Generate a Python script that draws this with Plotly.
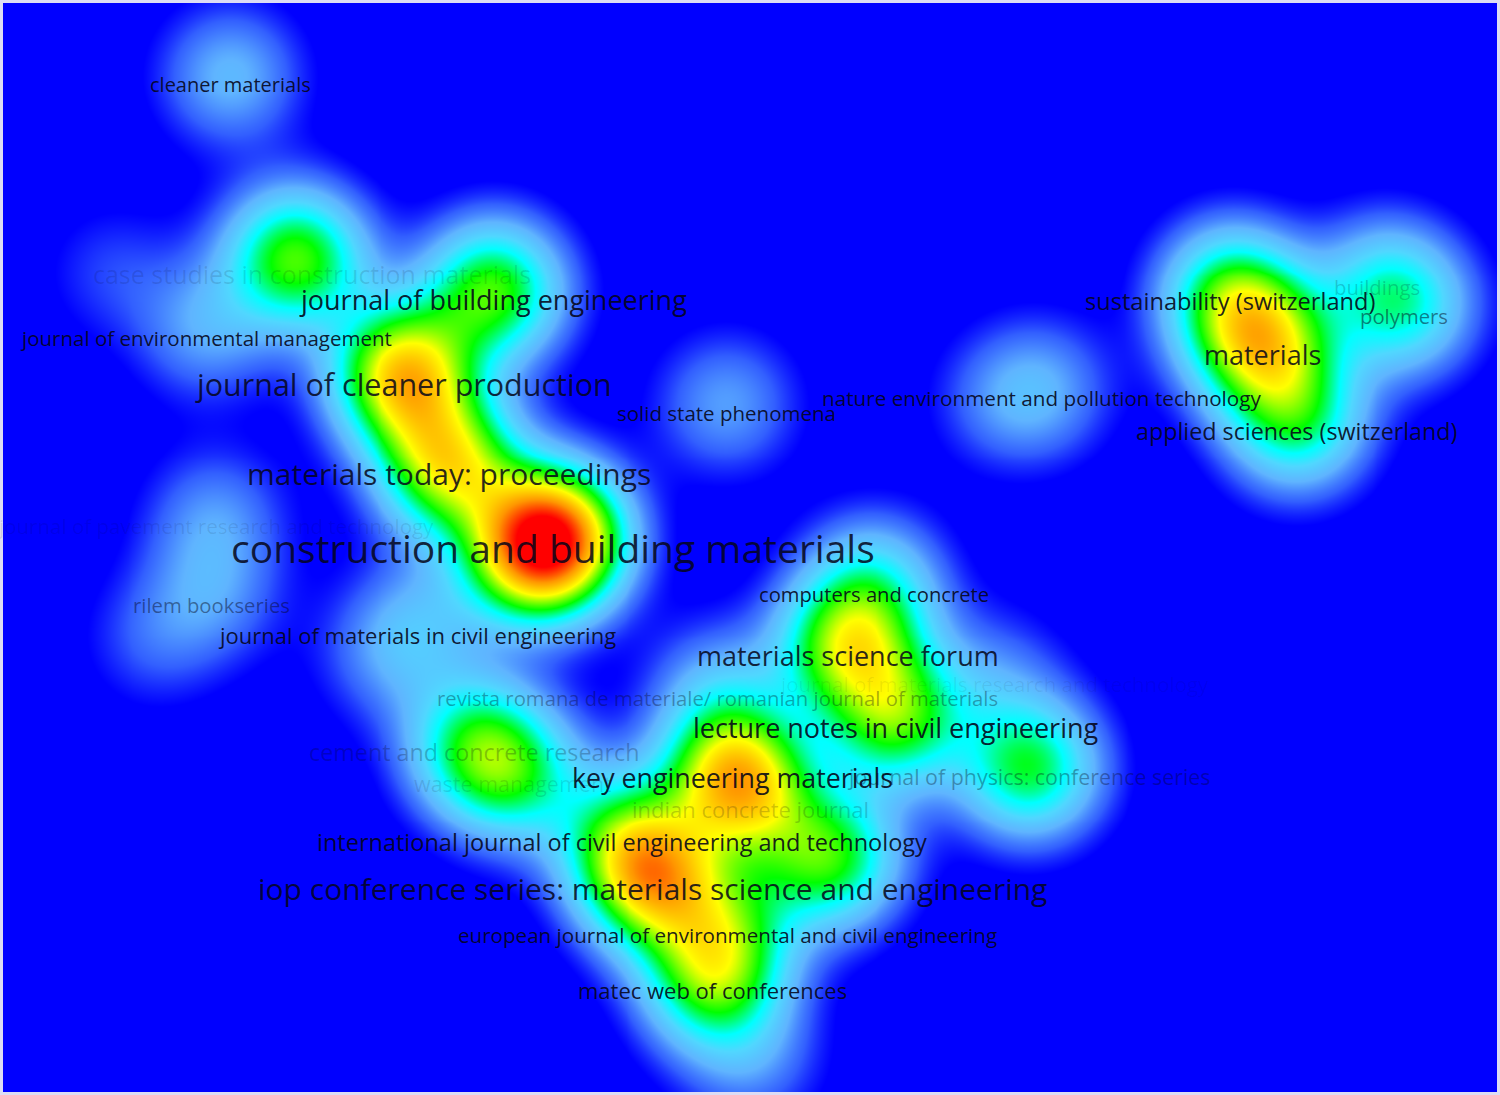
import numpy as np
import plotly.graph_objects as go

# journals shown on the density map (map coordinates, same units as the picture)
names = [
    "cleaner materials",
    "case studies in construction materials",
    "journal of building engineering",
    "journal of environmental management",
    "journal of cleaner production",
    "solid state phenomena",
    "materials today: proceedings",
    "journal of pavement research and technology",
    "construction and building materials",
    "rilem bookseries",
    "journal of materials in civil engineering",
    "computers and concrete",
    "materials science forum",
    "journal of materials research and technology",
    "revista romana de materiale/ romanian journal of materials",
    "lecture notes in civil engineering",
    "cement and concrete research",
    "waste management",
    "key engineering materials",
    "journal of physics: conference series",
    "indian concrete journal",
    "international journal of civil engineering and technology",
    "iop conference series: materials science and engineering",
    "european journal of environmental and civil engineering",
    "matec web of conferences",
    "sustainability (switzerland)",
    "buildings",
    "polymers",
    "materials",
    "nature environment and pollution technology",
    "applied sciences (switzerland)",
]
item_x = [228, 310, 492, 204, 402, 726, 448, 213, 552, 209, 416, 874, 848, 995, 717,
          897, 473, 512, 732, 1030, 750, 621, 652, 727, 712, 1232, 1380, 1407, 1265, 1043, 1299]
item_y = [73, 263, 289, 328, 374, 403, 464, 517, 538, 596, 626, 585, 647, 676, 690,
          719, 744, 776, 770, 769, 801, 835, 881, 928, 983, 291, 277, 306, 344, 388, 421]
item_w = [0.18, 0.10, 0.48, 0.15, 0.70, 0.15, 0.60, 0.13, 0.88, 0.12, 0.15, 0.25, 0.50, 0.10, 0.15,
          0.45, 0.34, 0.32, 0.50, 0.42, 0.30, 0.30, 0.62, 0.28, 0.42, 0.38, 0.14, 0.28, 0.54, 0.14, 0.36]

# journals whose labels are hidden but still add density
hidden_x = [290, 830, 750, 150, 380, 1000, 520, 110]
hidden_y = [255, 860, 1060, 640, 660, 400, 560, 270]
hidden_w = [0.40, 0.45, 0.12, 0.08, 0.08, 0.08, 0.30, 0.07]

# label styling
label_size = [20, 25, 27, 20.5, 30.5, 20.5, 30, 20.5, 39, 20.3, 22, 20.2, 27, 20.5, 20.3,
              27, 23.3, 21.5, 26.8, 21.4, 22, 23.5, 30, 20.6, 22, 23.6, 20.4, 20.3, 27, 20.7, 23.3]
label_alpha = [0.9, 0.12, 0.9, 0.9, 0.85, 0.9, 0.85, 0.1, 0.85, 0.45, 0.9, 0.9, 0.85, 0.07, 0.35,
               0.9, 0.25, 0.12, 0.9, 0.35, 0.2, 0.9, 0.85, 0.9, 0.9, 0.9, 0.2, 0.5, 0.85, 0.9, 0.9]

W, H = 1500, 1095
SIGMA = 48

gx = np.arange(0, W + 1, 5)
gy = np.arange(0, H + 1, 5)
XX, YY = np.meshgrid(gx, gy)
dens = np.zeros_like(XX, dtype=float)
for x, y, w in zip(item_x + hidden_x, item_y + hidden_y, item_w + hidden_w):
    dens += w * np.exp(-((XX - x) ** 2 + (YY - y) ** 2) / (2 * SIGMA ** 2))
dens = dens / dens.max()

colorscale = [
    [0.0, "rgb(0,0,255)"],
    [0.03, "rgb(0,0,255)"],
    [0.08, "rgb(50,95,255)"],
    [0.15, "rgb(95,180,255)"],
    [0.22, "rgb(80,215,255)"],
    [0.29, "rgb(0,255,255)"],
    [0.40, "rgb(0,255,0)"],
    [0.56, "rgb(255,255,0)"],
    [0.72, "rgb(255,150,0)"],
    [0.88, "rgb(255,0,0)"],
    [1.0, "rgb(255,0,0)"],
]

fig = go.Figure(go.Heatmap(
    x=gx, y=gy, z=dens, colorscale=colorscale, zmin=0, zmax=1,
    zsmooth="best", showscale=False, hoverinfo="skip",
))

for i, name in enumerate(names):
    fig.add_annotation(
        x=item_x[i], y=item_y[i], text=name, showarrow=False,
        xanchor="center", yanchor="middle", yshift=-9,
        font=dict(family="Open Sans", size=label_size[i],
                  color=f"rgba(5,5,25,{label_alpha[i]})"),
    )

fig.update_xaxes(range=[0, W], visible=False, fixedrange=True)
fig.update_yaxes(range=[H, 0], visible=False, fixedrange=True)
fig.update_layout(
    width=W, height=H,
    margin=dict(l=3, r=3, t=3, b=3),
    paper_bgcolor="#dcdcf4",
    plot_bgcolor="rgb(0,0,255)",
)

fig.write_html("out.html", config={"displayModeBar": False},
               post_script="document.body.style.margin='0';")
